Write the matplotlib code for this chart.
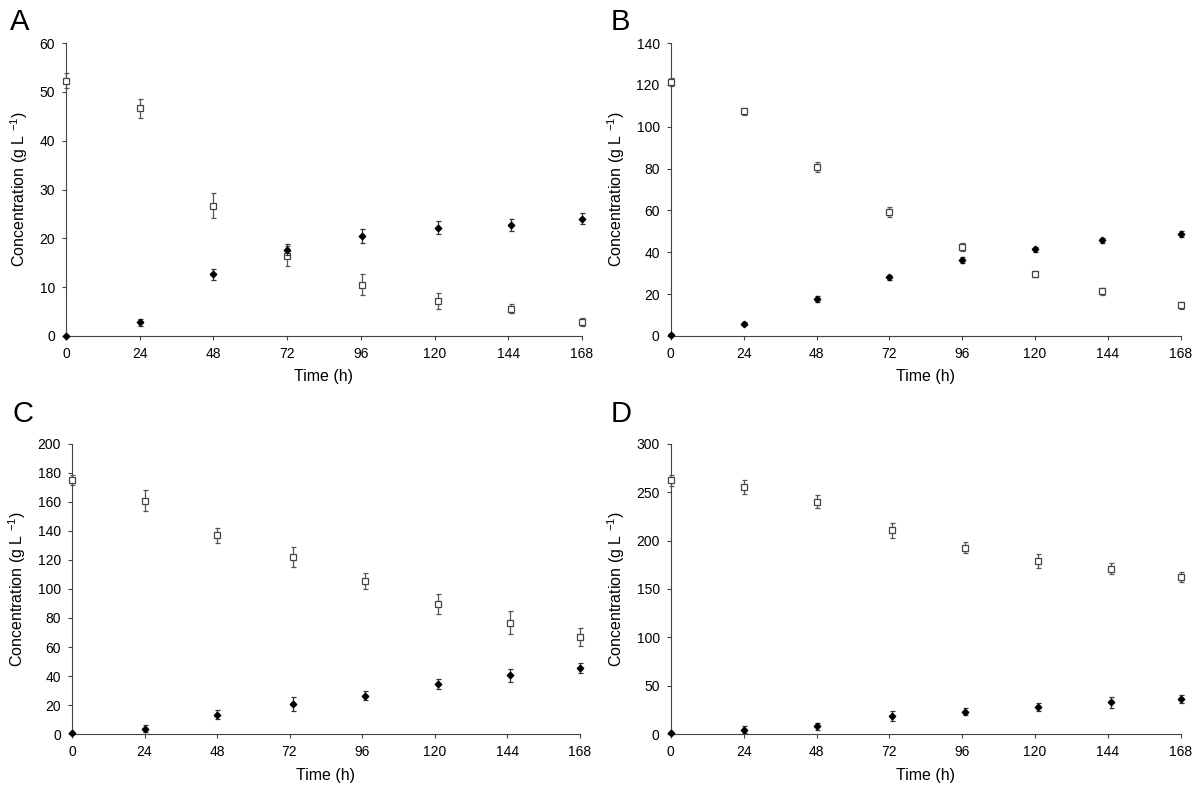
import numpy as np
import matplotlib
matplotlib.use("Agg")
import matplotlib.pyplot as plt

plt.rcParams['font.family'] = ['Liberation Sans', 'DejaVu Sans']
plt.rcParams['mathtext.fontset'] = 'custom'
plt.rcParams['mathtext.rm'] = 'Liberation Sans'
plt.rcParams['mathtext.it'] = 'Liberation Sans'

# Datos (tiempo en h, concentracion en g/L)
tA = [0, 24, 48, 72, 96.5, 121, 145, 168]
subA = [52.3, 46.6, 26.7, 16.4, 10.5, 7.1, 5.6, 2.9]
subA_err = [1.6, 2.0, 2.6, 2.0, 2.2, 1.6, 0.9, 0.8]
prodA = [0.0, 2.8, 12.6, 17.7, 20.5, 22.2, 22.8, 24.0]
prodA_err = [0.0, 0.7, 1.1, 1.2, 1.5, 1.3, 1.2, 1.1]

tB = [0, 24, 48, 72, 96, 120, 142, 168]
subB = [121.4, 107.4, 80.8, 59.4, 42.6, 29.8, 21.3, 14.7]
subB_err = [2.0, 1.7, 2.4, 2.3, 1.8, 1.4, 1.7, 1.6]
prodB = [0.5, 5.8, 17.6, 28.0, 36.2, 41.4, 45.8, 48.8]
prodB_err = [0.3, 0.8, 1.3, 1.2, 1.5, 1.3, 1.2, 1.4]

tC = [0, 24, 48, 73, 97, 121, 145, 168]
subC = [174.9, 160.7, 136.9, 122.0, 105.4, 89.8, 76.8, 66.7]
subC_err = [3.5, 7.3, 5.1, 6.6, 5.7, 6.9, 8.0, 6.3]
prodC = [0.7, 3.7, 13.5, 20.6, 26.5, 34.3, 40.7, 45.5]
prodC_err = [0.3, 2.5, 3.0, 4.7, 3.0, 3.4, 4.5, 3.5]

tD = [0, 24, 48, 73, 97, 121, 145, 168]
subD = [262.0, 255.4, 240.0, 210.4, 192.6, 178.9, 171.0, 162.4]
subD_err = [5.3, 7.4, 6.7, 8.0, 6.0, 6.9, 6.0, 5.3]
prodD = [1.0, 4.8, 8.2, 18.5, 23.3, 28.1, 33.0, 36.0]
prodD_err = [0.5, 4.0, 3.8, 5.3, 3.4, 4.5, 5.5, 4.3]

xticks = [0, 24, 48, 72, 96, 120, 144, 168]

# letra, datos, ymax, paso, posicion de ejes, posicion de la letra
panels = [
    ('A', tA, subA, subA_err, prodA, prodA_err, 60, 10, [0.055, 0.579, 0.430, 0.367], (0.008, 0.963)),
    ('B', tB, subB, subB_err, prodB, prodB_err, 140, 20, [0.559, 0.579, 0.425, 0.367], (0.509, 0.963)),
    ('C', tC, subC, subC_err, prodC, prodC_err, 200, 20, [0.060, 0.080, 0.423, 0.364], (0.010, 0.471)),
    ('D', tD, subD, subD_err, prodD, prodD_err, 300, 50, [0.559, 0.080, 0.425, 0.364], (0.509, 0.471)),
]

fig = plt.figure(figsize=(12, 7.98), dpi=100)

for letter, t, sub, sub_err, prod, prod_err, ymax, ystep, pos, lpos in panels:
    ax = fig.add_axes(pos)
    ax.errorbar(t, sub, yerr=sub_err, fmt='s', ms=4, mfc='white', mec='#444444',
                mew=0.9, ecolor='#555555', elinewidth=0.9, capsize=1.8, capthick=0.9,
                clip_on=False, zorder=3)
    ax.errorbar(t, prod, yerr=prod_err, fmt='D', ms=3.3, mfc='black', mec='black',
                ecolor='#333333', elinewidth=0.9, capsize=1.8, capthick=0.9,
                clip_on=False, zorder=4)
    ax.set_xlim(0, 168)
    ax.set_ylim(0, ymax)
    ax.set_xticks(xticks)
    ax.set_yticks(np.arange(0, ymax + 1, ystep))
    for s in ['top', 'right']:
        ax.spines[s].set_visible(False)
    for s in ['left', 'bottom']:
        ax.spines[s].set_color('#444444')
    ax.tick_params(direction='out', length=3, color='#444444', labelsize=10, pad=5)
    ax.set_xlabel('Time (h)', fontsize=11.5, labelpad=6)
    ax.set_ylabel('Concentration (g L $^{-1}$)', fontsize=11.5, labelpad=7)
    fig.text(lpos[0], lpos[1], letter, fontsize=21, va='baseline', ha='left')

fig.savefig('out.png', dpi=100)
